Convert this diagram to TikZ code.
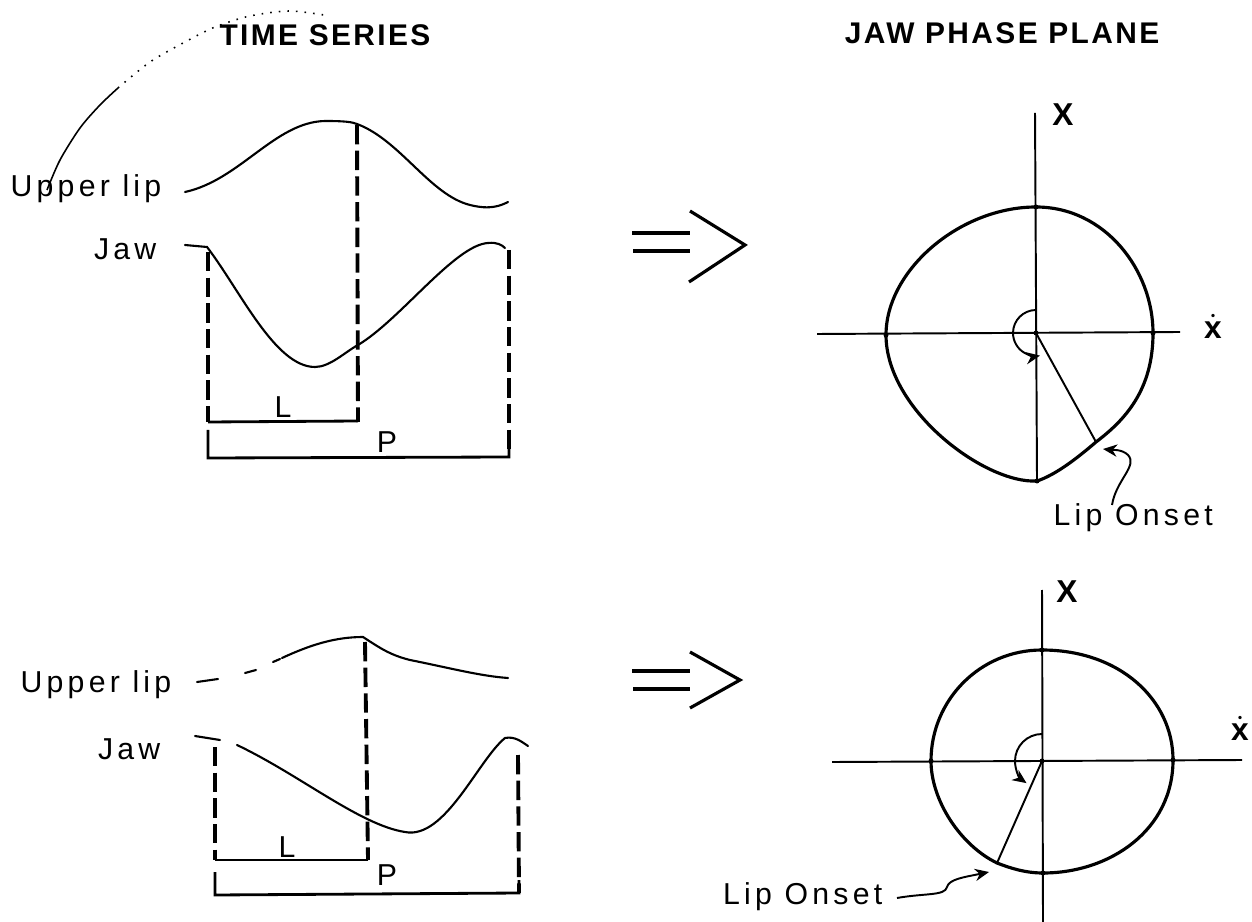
\documentclass[tikz,border=0pt]{standalone}
\usepackage{fontspec}
\setmainfont{Liberation Sans}
\usetikzlibrary{arrows.meta}

\tikzset{
  lbl/.style={font=\fontsize{8.6}{10}\selectfont\addfontfeature{LetterSpace=14}, inner sep=0pt},
  ttl/.style={font=\fontsize{8.5}{10}\selectfont\bfseries\addfontfeature{LetterSpace=8}, inner sep=0pt},
  axlbl/.style={font=\fontsize{9}{10}\selectfont\bfseries, inner sep=0pt},
  trace/.style={line width=0.6pt, line cap=round},
  marker/.style={line width=1.1pt, dash pattern=on 5.5pt off 1.8pt},
  bracket/.style={line width=0.8pt},
  axisline/.style={line width=0.55pt},
  orbit/.style={line width=0.9pt},
  onsetarrow/.style={line width=0.55pt, -{Stealth[length=4pt,width=3.5pt]}},
}

\begin{document}
\begin{tikzpicture}[x=0.01cm, y=-0.01cm]
\useasboundingbox (0,0) rectangle (1252,922);

% titoli
\node[ttl] (tsTitle) at (325,35) {TIME SERIES};
\node[ttl, anchor=east] (ppTitle) at (1160,33) {JAW PHASE PLANE};

% tratto a mano sul titolo
\draw[line width=0.45pt] plot[smooth] coordinates {(47,190) (60,160) (80,128) (100,105) (118,88)};
\draw[line width=0.45pt, dotted] plot[smooth] coordinates {(118,88) (150,62) (185,42) (215,27) (250,16) (290,11) (330,16)};

% serie temporale in alto
\node[lbl, anchor=east] (ulA) at (162,189) {Upper lip};
\node[lbl, anchor=east] (jawA) at (157,249) {Jaw};
\draw[trace] (185,192) .. controls (240,180) and (275,122) .. (325,121)
  .. controls (345,121) and (352,122) .. (357,124)
  .. controls (400,140) and (430,195) .. (470,205)
  .. controls (490,210) and (500,206) .. (508,202);
\draw[trace] (185,245) -- (207,247)
  .. controls (240,290) and (275,367) .. (315,367)
  .. controls (330,367) and (345,352) .. (358,345)
  .. controls (400,320) and (455,245) .. (488,243)
  .. controls (497,242) and (502,245) .. (505,248);
\draw[marker] (208,252) -- (208,422);
\draw[marker] (357,125) -- (358,422);
\draw[marker] (509,250) -- (509,450);
\draw[bracket] (208,422) -- (358,421);
\draw[bracket] (208,430) -- (208,458) -- (509,457) -- (509,448);
\node[lbl] (lenA) at (283,407) {L};
\node[lbl] (perA) at (387,442) {P};

% serie temporale in basso
\node[lbl, anchor=east] (ulB) at (172,685) {Upper lip};
\node[lbl, anchor=east] (jawB) at (161,749) {Jaw};
\draw[trace] (197,682) -- (218,679) (245,673) -- (256,670) (273,662) -- (280,659);
\draw[trace] (282,658) .. controls (310,645) and (335,637) .. (363,637)
  .. controls (380,648) and (390,655) .. (410,660)
  .. controls (450,668) and (480,676) .. (508,678);
\draw[trace] (195,736) -- (220,740);
\draw[trace] (237,745) .. controls (300,775) and (360,825) .. (405,832)
  .. controls (445,840) and (478,760) .. (505,738)
  .. controls (515,736) and (522,742) .. (528,746);
\draw[marker] (215,747) -- (215,860);
\draw[marker] (365,642) -- (368,860);
\draw[marker] (518,755) -- (519,893);
\draw[bracket] (215,860) -- (368,860);
\draw[bracket] (215,872) -- (215,895) -- (519,893) -- (519,880);
\node[lbl] (lenB) at (287,847) {L};
\node[lbl] (perB) at (387,875) {P};

% frecce di implicazione
\draw[line width=0.9pt] (632,233) -- (690,233) (633,251) -- (690,251);
\draw[line width=0.9pt] (690,211) -- (745,245) -- (689,282);
\draw[line width=0.9pt] (632,671) -- (690,671) (633,689) -- (690,689);
\draw[line width=0.9pt] (690,652) -- (740,680) -- (690,708);

% piano di fase in alto
\coordinate (cA) at (1036,333);
\coordinate (onA) at (1096,442);
\draw[axisline] (1035,113) -- (1037,481);
\draw[axisline] (817,334) -- (1180,332);
\draw[orbit] (1036,207) .. controls (1105,207) and (1153,270) .. (1153,333)
  .. controls (1153,390) and (1125,420) .. (onA)
  .. controls (1075,460) and (1055,475) .. (1037,481)
  .. controls (985,484) and (886,410) .. (886,335)
  .. controls (886,270) and (960,207) .. cycle;
\draw[axisline] (cA) -- (onA);
\draw[axisline, onsetarrow] (cA) ++(0,-23) arc[start angle=270, end angle=80, radius=23];
\foreach \p in {(1036,207),(1153,333),(886,335),(1037,481),(1036,333)}
  \fill \p circle[radius=2.5];
\node[axlbl] (xA) at (1063,115) {X};
\node[axlbl] (xdA) at (1213,326) {$\dot{\mbox{x}}$};
\node[lbl, anchor=west] (lipA) at (1053,518) {Lip Onset};
\coordinate (tailA) at (1112,505);
\draw[onsetarrow] (tailA) .. controls (1116,480) and (1138,466) .. (1128,455) .. controls (1122,449) and (1112,450) .. (1103,449);

% piano di fase in basso
\coordinate (cB) at (1042,761);
\coordinate (onB) at (997,863);
\draw[axisline] (1042,590) -- (1043,922);
\draw[axisline] (832,762) -- (1242,760);
\draw[orbit] (1042,650) .. controls (1120,650) and (1173,700) .. (1173,760)
  .. controls (1173,830) and (1110,873) .. (1043,873)
  .. controls (1025,873) and (1010,868) .. (onB)
  .. controls (960,845) and (931,800) .. (931,761)
  .. controls (931,700) and (980,650) .. cycle;
\draw[axisline] (cB) -- (onB);
\draw[axisline, onsetarrow] (cB) ++(0,-27) arc[start angle=270, end angle=125, radius=27];
\foreach \p in {(1042,650),(1173,760),(931,761),(1043,873),(1042,761)}
  \fill \p circle[radius=2.5];
\node[axlbl] (xB) at (1067,592) {X};
\node[axlbl] (xdB) at (1240,728) {$\dot{\mbox{x}}$};
\node[lbl, anchor=east] (lipB) at (883,897) {Lip Onset};
\coordinate (tailB) at (897,898);
\draw[onsetarrow] (tailB) .. controls (925,893) and (945,896) .. (947,887) .. controls (949,879) and (965,877) .. (989,872);

\end{tikzpicture}
\end{document}
